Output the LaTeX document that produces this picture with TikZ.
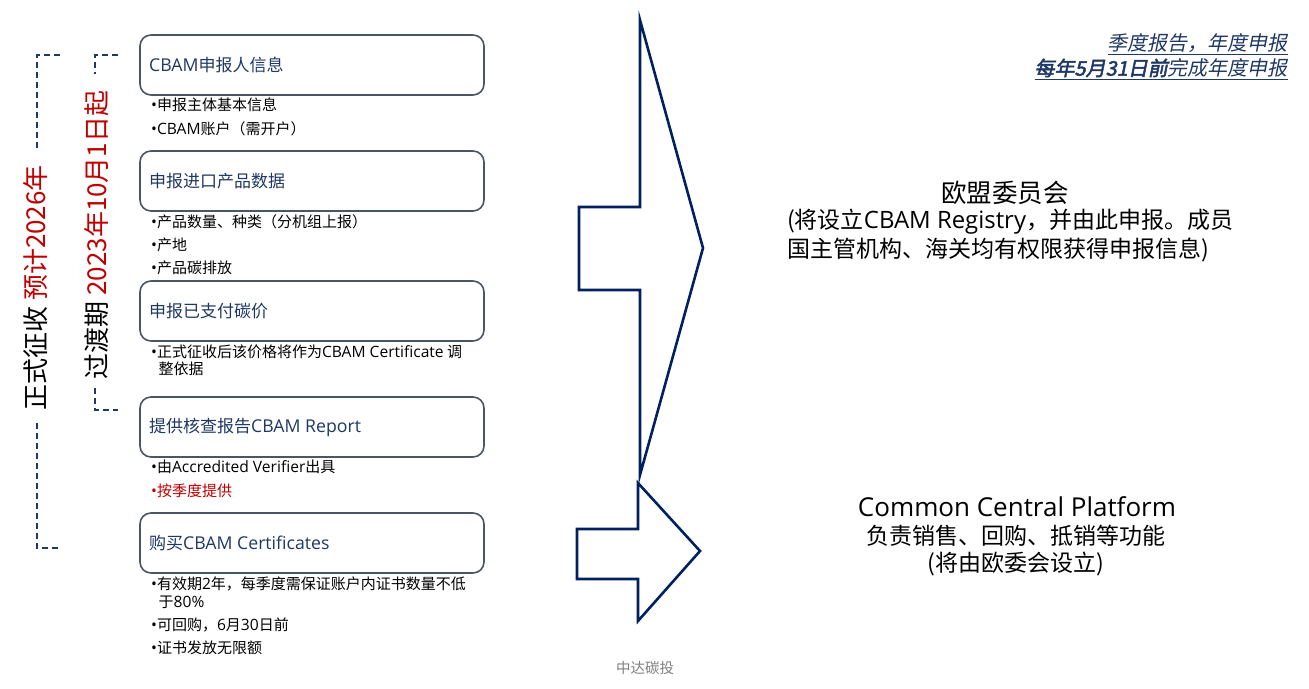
\documentclass[tikz,border=0pt]{standalone}
\usepackage{fontspec}
\setmainfont{Noto Sans CJK SC}
\newfontfamily\latinf{Open Sans}[Scale=1.04]
\newfontfamily\cjkit{Noto Sans CJK SC}[FakeSlant=0.2]
\newfontfamily\cjkbi{Noto Sans CJK SC}[FakeSlant=0.2,FakeBold=2.5]
\newcommand\lat[1]{{\latinf #1}}
\newcommand\bul{{\latinf •}}
\definecolor{boxline}{HTML}{4B5563}
\definecolor{boxtext}{HTML}{1F3864}
\definecolor{arrowc}{HTML}{002060}
\definecolor{redc}{HTML}{C00000}
\definecolor{grayc}{HTML}{7F7F7F}
\definecolor{dashc}{HTML}{1F3864}
\tikzset{
  stepbox/.style={draw=boxline, line width=1.6pt, rounded corners=11pt},
  boxlabel/.style={anchor=west, inner sep=0pt, text=boxtext, font=\fontsize{17}{20}\selectfont},
  bullet/.style={anchor=west, inner sep=0pt, font=\fontsize{15}{17}\selectfont},
  bigarrow/.style={draw=arrowc, line width=2.6pt, line join=miter},
  bracketline/.style={draw=dashc, line width=1.3pt, dash pattern=on 6pt off 4pt},
  sidelabel/.style={rotate=90, inner sep=0pt, font=\fontsize{26}{30}\selectfont},
  bigtext/.style={inner sep=0pt, font=\fontsize{23}{27}\selectfont},
}
\begin{document}
\begin{tikzpicture}[x=1pt,y=-1pt]
\useasboundingbox (0,0) rectangle (1309,688);

% boxes
\draw[stepbox] (140,35) rectangle (484,95);
\draw[stepbox] (140,151) rectangle (484,211);
\draw[stepbox] (140,281) rectangle (484,341);
\draw[stepbox] (140,397) rectangle (484,457);
\draw[stepbox] (140,513) rectangle (484,573);

\node[boxlabel] (b1) at (149,65) {\lat{CBAM}申报人信息};
\node[boxlabel] (b2) at (149,181) {申报进口产品数据};
\node[boxlabel] (b3) at (149,311) {申报已支付碳价};
\node[boxlabel] (b4) at (149,427) {提供核查报告\lat{CBAM Report}};
\node[boxlabel] (b5) at (149,543) {购买\lat{CBAM Certificates}};

% bullets
\node[bullet] (t11) at (151,105) {\bul 申报主体基本信息};
\node[bullet] (t12) at (151,129) {\bul\lat{CBAM}账户（需开户）};
\node[bullet] (t21) at (151,222) {\bul 产品数量、种类（分机组上报）};
\node[bullet] (t22) at (151,245) {\bul 产地};
\node[bullet] (t23) at (151,268) {\bul 产品碳排放};
\node[bullet] (t31) at (151,352) {\bul 正式征收后该价格将作为\lat{CBAM Certificate} 调};
\node[bullet] (t32) at (158.5,369) {整依据};
\node[bullet] (t41) at (151,467) {\bul 由\lat{Accredited Verifier}出具};
\node[bullet, text=redc] (t42) at (151,491) {\bul 按季度提供};
\node[bullet] (t51) at (151,584) {\bul 有效期\lat{2}年，每季度需保证账户内证书数量不低};
\node[bullet] (t52) at (158.5,602) {于\lat{80\%}};
\node[bullet] (t53) at (151,625) {\bul 可回购，\lat{6}月\lat{30}日前};
\node[bullet] (t54) at (151,648) {\bul 证书发放无限额};

% brackets
\draw[bracketline] (60,55) -- (37,55) -- (37,150);
\draw[bracketline] (37,423) -- (37,548) -- (60,548);
\node[sidelabel] (outer) at (36,288) {正式征收 \textcolor{redc}{预计2026年}};
\draw[bracketline] (118,55) -- (95,55) -- (95,74);
\draw[bracketline] (95,388) -- (95,410) -- (118,410);
\node[sidelabel] (inner) at (97,235) {过渡期 \textcolor{redc}{2023年10月1日起}};

% arrows
\draw[bigarrow] (640,20) -- (640,207) -- (579,207) -- (579,290) -- (640,290) -- (640,475) -- (703,248) -- cycle;
\draw[bigarrow] (638,483) -- (638,529) -- (577,529) -- (577,579) -- (638,579) -- (638,621) -- (700,551) -- cycle;

% right texts
\node[bigtext, font=\fontsize{25.5}{28}\selectfont] (eu1) at (1005,193) {欧盟委员会};
\node[bigtext, anchor=west] (eu2) at (787,222) {(将设立\lat{CBAM Registry}，并由此申报。成员};
\node[bigtext, anchor=west] (eu3) at (787,250) {国主管机构、海关均有权限获得申报信息)};

\node[bigtext, font=\fontsize{25}{28}\selectfont] (cc1) at (1017,507) {\lat{Common Central Platform}};
\node[bigtext] (cc2) at (1016,536) {负责销售、回购、抵销等功能};
\node[bigtext] (cc3) at (1016,564) {(将由欧委会设立)};

% top right
\node[anchor=east, inner sep=0pt, text=boxtext, font=\fontsize{20}{22}\selectfont\cjkit] (tr1) at (1288,44) {\underline{季度报告，年度申报}};
\node[anchor=east, inner sep=0pt, text=boxtext, font=\fontsize{20}{22}\selectfont] (tr2) at (1288,69) {\underline{{\cjkbi 每年5月31日前}{\cjkit 完成年度申报}}};

% footer
\node[inner sep=0pt, text=grayc, font=\fontsize{14.5}{17}\selectfont] (ft) at (645,668) {中达碳投};
\end{tikzpicture}
\end{document}
